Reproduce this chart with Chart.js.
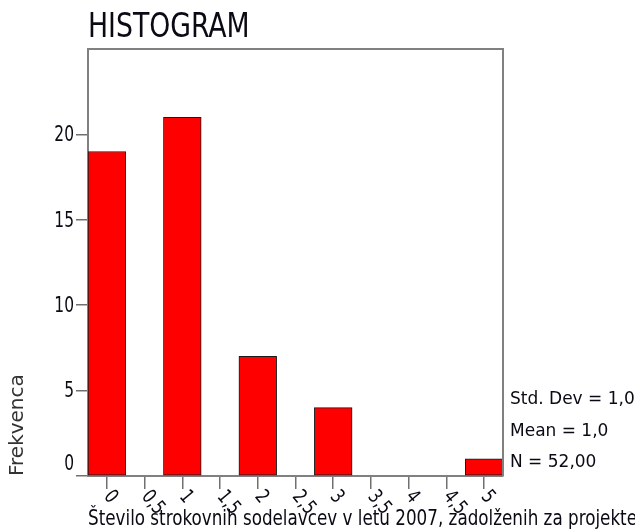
<!DOCTYPE html>
<html>
<head>
<meta charset="utf-8">
<script src="https://cdn.jsdelivr.net/npm/chart.js@4.4.1/dist/chart.umd.min.js"></script>
<style>
  html, body { margin: 0; padding: 0; background: #fff; }
</style>
</head>
<body>
<canvas id="HistChart" width="635" height="531"></canvas>
<script>
var bins = [0, 1, 2, 3, 4, 5];
var counts = [19, 21, 7, 4, 0, 1];
var xTicks = [0, 0.5, 1, 1.5, 2, 2.5, 3, 3.5, 4, 4.5, 5];
var yTicks = [0, 5, 10, 15, 20];
var stats = ['Std. Dev = 1,0', 'Mean = 1,0', 'N = 52,00'];
var titleText = 'HISTOGRAM';
var xTitle = 'Število strokovnih sodelavcev v letu 2007, zadolženih za projekte';
var yTitle = 'Frekvenca';

var narrow = '"DejaVu Sans Condensed", sans-serif';

// text squeezed sideways, the original font is narrower than anything installed
function squeezed(ctx, text, x, y, sx, rot) {
    ctx.save();
    ctx.translate(x, y);
    if (rot) ctx.rotate(rot);
    ctx.scale(sx, 1);
    ctx.fillText(text, 0, 0);
    ctx.restore();
}

// title, frame, tick labels and stats box
var decorations = {
    id: 'decorations',
    afterDraw: function(chart) {
        var ctx = chart.ctx;
        var area = chart.chartArea;
        var xs = chart.scales.x;
        var ys = chart.scales.y;
        ctx.save();

        ctx.strokeStyle = '#808080';
        ctx.lineWidth = 2;
        ctx.beginPath();
        ctx.moveTo(area.left, area.top);
        ctx.lineTo(area.right, area.top);
        ctx.lineTo(area.right, area.bottom);
        ctx.stroke();

        ctx.fillStyle = '#0a0a14';
        ctx.textAlign = 'left';
        ctx.textBaseline = 'alphabetic';
        ctx.font = '33px ' + narrow;
        squeezed(ctx, titleText, area.left, 37, 0.9);

        ctx.font = '17px "DejaVu Sans", sans-serif';
        stats.forEach(function(s, i) {
            ctx.fillText(s, area.right + 7, 404 + i * 31.5);
        });

        // y tick labels, the bottom one sits above the axis line
        ctx.font = '22px ' + narrow;
        ctx.textAlign = 'right';
        ctx.textBaseline = 'middle';
        ys.ticks.forEach(function(t) {
            var lift = t.value === 0 ? -12 : 1;
            squeezed(ctx, String(t.value), area.left - 14, ys.getPixelForValue(t.value) + lift, 0.78);
        });

        // x tick labels, turned down to the right
        ctx.font = '20px ' + narrow;
        ctx.textAlign = 'left';
        ctx.textBaseline = 'top';
        xs.ticks.forEach(function(t) {
            var px = xs.getPixelForValue(t.value);
            squeezed(ctx, String(t.value).replace('.', ','), px + 8, area.bottom + 11, 0.85, 50 * Math.PI / 180);
        });

        ctx.textBaseline = 'alphabetic';
        ctx.font = '21px ' + narrow;
        var w = ctx.measureText(xTitle).width;
        squeezed(ctx, xTitle, area.left, 525, 549 / w);
        ctx.restore();
    }
};

var ctx = document.getElementById('HistChart').getContext('2d');

var histChart = new Chart(ctx, {
    type: 'bar',
    data: {
        datasets: [{
            data: bins.map(function(b, i) { return {x: b, y: counts[i]}; }),
            backgroundColor: '#ff0000',
            borderColor: '#1a1a1a',
            borderWidth: 1,
            borderSkipped: false,
            barPercentage: 1,
            categoryPercentage: 1
        }]
    },
    options: {
        responsive: false,
        animation: false,
        devicePixelRatio: 1,
        layout: { padding: { top: 49, right: 132, left: 0, bottom: 0 } },
        plugins: {
            legend: { display: false },
            tooltip: { enabled: false }
        },
        scales: {
            x: {
                type: 'linear',
                offset: false,
                min: -0.25,
                max: 5.25,
                afterBuildTicks: function(scale) {
                    scale.ticks = xTicks.map(function(v) { return {value: v}; });
                },
                afterFit: function(scale) { scale.height = 55; },
                ticks: { display: false },
                grid: { offset: false, drawOnChartArea: false, tickLength: 13, color: '#707070', lineWidth: 1.5 },
                border: { color: '#808080', width: 2 }
            },
            y: {
                min: 0,
                max: 25,
                afterBuildTicks: function(scale) {
                    scale.ticks = yTicks.map(function(v) { return {value: v}; });
                },
                afterFit: function(scale) { scale.width = 88; },
                ticks: { display: false },
                grid: { drawOnChartArea: false, tickLength: 12, color: '#707070', lineWidth: 1.5 },
                border: { color: '#808080', width: 2 },
                title: {
                    display: true,
                    text: yTitle,
                    align: 'start',
                    color: '#333',
                    padding: { top: 6 },
                    font: { family: '"DejaVu Sans", sans-serif', size: 20 }
                }
            }
        }
    },
    plugins: [decorations]
});
</script>
</body>
</html>
